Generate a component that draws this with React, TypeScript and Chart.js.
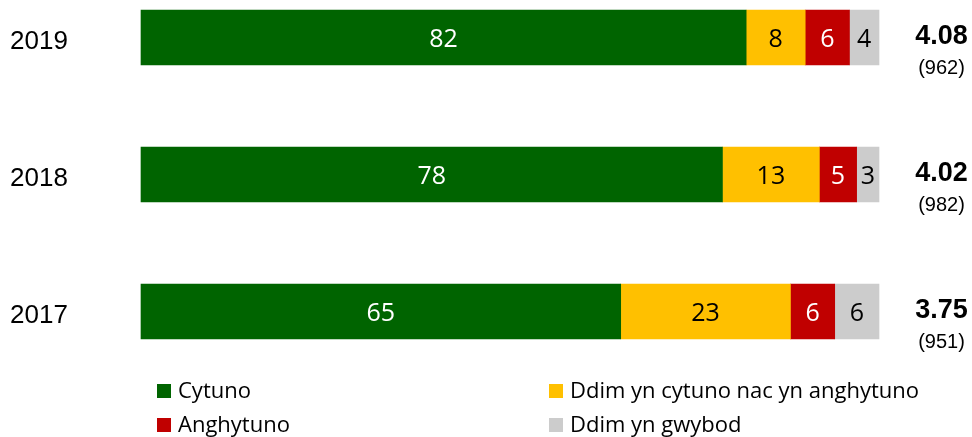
import React, { useEffect, useRef } from "react";
import { Chart, registerables } from "chart.js";

Chart.register(...registerables);

const categories = ["2019", "2018", "2017"];
const cytuno = [82, 78, 65];
const neutral = [8, 13, 23];
const anghytuno = [6, 5, 6];
const ddimGwybod = [4, 3, 6];
const meanScores = ["4.08", "4.02", "3.75"];
const sampleSizes = ["(962)", "(982)", "(951)"];
const seriesLabels = [
  "Cytuno",
  "Ddim yn cytuno nac yn anghytuno",
  "Anghytuno",
  "Ddim yn gwybod",
];
const seriesColors = ["#006400", "#FFC000", "#C00000", "#CCCCCC"];
const valueLabelColors = ["#FFFFFF", "#000000", "#FFFFFF", "#000000"];

const SANS = "'Open Sans', 'Noto Sans', sans-serif";
const ARIAL = "'Liberation Sans', Arial, sans-serif";

export default function App() {
  const canvasRef = useRef<HTMLCanvasElement | null>(null);

  useEffect(() => {
    const canvas = canvasRef.current;
    if (!canvas) return;
    const raw = [cytuno, neutral, anghytuno, ddimGwybod];
    const totals = categories.map((_, i) => raw.reduce((s, arr) => s + arr[i], 0));

    const labelsPlugin = {
      id: "customLabels",
      afterDatasetsDraw(chart: any) {
        const ctx = chart.ctx;
        ctx.save();
        chart.data.datasets.forEach((ds: any, di: number) => {
          const meta = chart.getDatasetMeta(di);
          meta.data.forEach((el: any, i: number) => {
            const p = el.getProps(["x", "y", "base"], true);
            const cx = (p.x + p.base) / 2;
            ctx.font = `25px ${SANS}`;
            ctx.fillStyle = valueLabelColors[di];
            ctx.textAlign = "center";
            ctx.textBaseline = "middle";
            ctx.fillText(String(ds.rawValues[i]), cx, p.y + 2);
          });
        });
        // right side annotations
        const meta0 = chart.getDatasetMeta(0);
        meta0.data.forEach((el: any, i: number) => {
          const y = el.y;
          ctx.fillStyle = "#000000";
          ctx.textAlign = "center";
          ctx.textBaseline = "middle";
          ctx.font = `bold 27px ${ARIAL}`;
          ctx.fillText(meanScores[i], 941.5, y - 1);
          ctx.font = `20px ${ARIAL}`;
          ctx.fillText(sampleSizes[i], 941.5, y + 31);
        });
        ctx.restore();
      },
      afterDraw(chart: any) {
        const ctx = chart.ctx;
        const area = chart.chartArea;
        ctx.save();
        const colX = [area.left + 16, area.left + 408];
        const rowY = [chart.height - 46, chart.height - 12];
        chart.data.datasets.forEach((ds: any, di: number) => {
          const col = di % 2;
          const row = Math.floor(di / 2);
          const x = colX[col];
          const y = rowY[row];
          ctx.fillStyle = ds.backgroundColor;
          ctx.fillRect(x, y - 7, 14, 14);
          ctx.fillStyle = "#000000";
          ctx.font = `22px ${SANS}`;
          ctx.textAlign = "left";
          ctx.textBaseline = "middle";
          ctx.fillText(ds.label, x + 21, y + 1);
        });
        ctx.restore();
      },
    };

    const chart = new Chart(canvas, {
      type: "bar",
      data: {
        labels: categories,
        datasets: raw.map((arr, di) => ({
          label: seriesLabels[di],
          data: arr.map((v, i) => (v / totals[i]) * 100),
          rawValues: arr,
          backgroundColor: seriesColors[di],
          borderWidth: 0,
          barThickness: 55,
          clip: false,
        })) as any,
      },
      options: {
        indexAxis: "y",
        animation: false,
        responsive: true,
        maintainAspectRatio: false,
        layout: { padding: { top: 37.5, bottom: 125.5, left: 10, right: 93 } },
        plugins: {
          legend: { display: false },
          tooltip: { enabled: false },
        },
        scales: {
          x: {
            stacked: true,
            min: 0,
            max: 100,
            display: false,
          },
          y: {
            stacked: true,
            offset: false,
            grid: { display: false },
            border: { display: false },
            afterFit(scale: any) {
              scale.width = 131;
            },
            ticks: {
              crossAlign: "far",
              labelOffset: 4,
              color: "#000000",
              font: { family: ARIAL, size: 26 },
            },
          },
        },
      },
      plugins: [labelsPlugin],
    });

    return () => chart.destroy();
  }, []);

  return (
    <div style={{ position: "absolute", left: 0, top: 0, width: 972, height: 437, background: "#ffffff" }}>
      <canvas ref={canvasRef} />
    </div>
  );
}
